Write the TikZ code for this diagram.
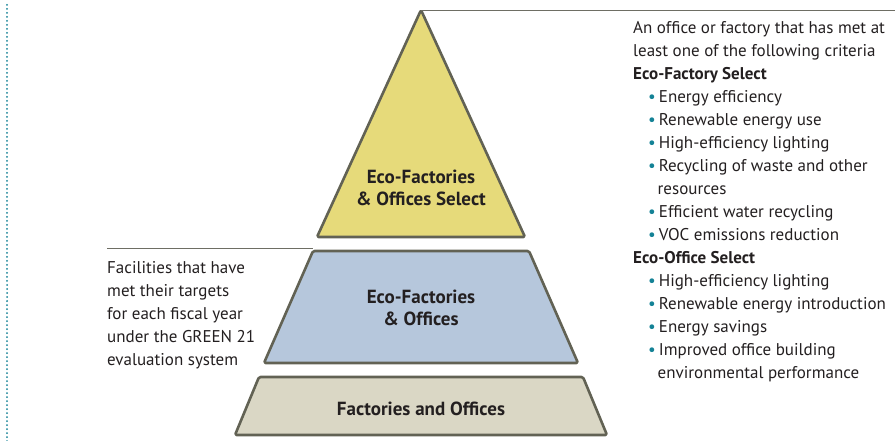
\documentclass[tikz,border=0pt]{standalone}
\usepackage{fontspec}
\setmainfont{PT Sans}
\usetikzlibrary{positioning, calc}
\usepackage{xcolor}
\definecolor{selectcolor}{RGB}{230,218,122}
\definecolor{ecocolor}{RGB}{182,199,220}
\definecolor{basecolor}{RGB}{218,215,197}
\definecolor{tierborder}{RGB}{98,98,84}
\definecolor{leadercolor}{RGB}{110,110,100}
\definecolor{textcolor}{RGB}{35,31,32}
\definecolor{bulletcolor}{RGB}{20,130,150}
\tikzset{
    tier/.style={draw=tierborder, line width=2.6pt, rounded corners=1.5pt, line join=round},
    tierlabel/.style={font=\bfseries\fontsize{19}{22}\selectfont, align=center, text=textcolor, inner sep=0pt},
    note/.style={font=\fontsize{17}{23}\selectfont, align=left, inner sep=0pt, text=textcolor},
    leader/.style={draw=leadercolor, line width=0.9pt}
}
\newcommand{\bul}{\hspace*{15pt}{\color{bulletcolor}\textbullet}\hspace{3pt}}
\newcommand{\cont}{\hspace*{24.5pt}}

\begin{document}
\begin{tikzpicture}[x=1pt, y=-1pt]
    \useasboundingbox (0,0) rectangle (895,441);

    % dotted margin rule
    \draw[bulletcolor, line width=2pt, line cap=round, dash pattern=on 0pt off 4pt] (7,5) -- (7,441);

    % tiers of the pyramid
    \draw[tier, fill=selectcolor] (421,10) -- (525,237) -- (317,237) -- cycle;
    \draw[tier, fill=ecocolor] (313,251) -- (529,251) -- (578,363) -- (264,363) -- cycle;
    \draw[tier, fill=basecolor] (259,377) -- (583,377) -- (607,435) -- (235,435) -- cycle;

    \coordinate (apex) at (421,10);
    \coordinate (midleft) at (313,248);

    \node[tierlabel] (selectlabel) at (421,188) {Eco-Factories\\\& Offices Select};
    \node[tierlabel] (ecolabel) at (421,308) {Eco-Factories\\\& Offices};
    \node[tierlabel] (baselabel) at (421,409) {Factories and Offices};

    \node[note, anchor=north west] (leftnote) at (107,261) {Facilities that have\\met their targets\\for each fiscal year\\under the GREEN 21\\evaluation system};

    \node[note, anchor=north west] (rightnote) at (633,21) {An office or factory that has met at\\least one of the following criteria\\
        \textbf{Eco-Factory Select}\\
        \bul Energy efficiency\\
        \bul Renewable energy use\\
        \bul High-efficiency lighting\\
        \bul Recycling of waste and other\\
        \cont resources\\
        \bul Efficient water recycling\\
        \bul VOC emissions reduction\\
        \textbf{Eco-Office Select}\\
        \bul High-efficiency lighting\\
        \bul Renewable energy introduction\\
        \bul Energy savings\\
        \bul Improved office building\\
        \cont environmental performance};

    \coordinate (topright) at (895,10);
    \coordinate (noteleft) at (107,248);
    \draw[leader] (apex) -- (topright);
    \draw[leader] (noteleft) -- (midleft);

\end{tikzpicture}
\end{document}
